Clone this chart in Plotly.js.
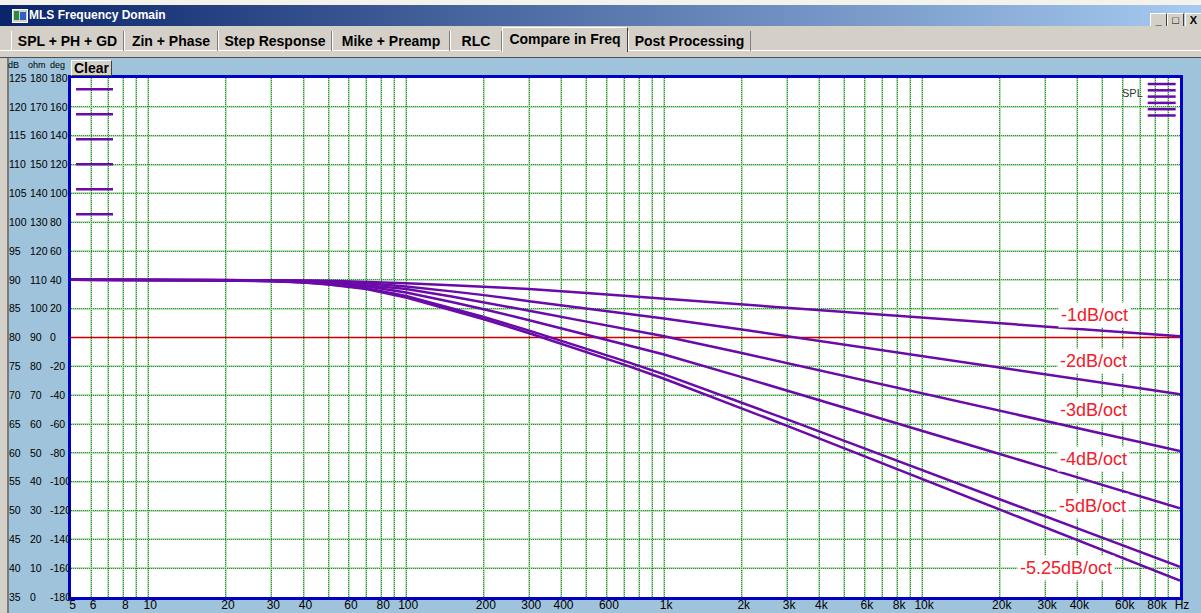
<!DOCTYPE html>
<html><head><meta charset="utf-8">
<script src="https://cdn.plot.ly/plotly-3.0.1.min.js"></script>
<style>
html,body{margin:0;padding:0}
body{width:1201px;height:613px;overflow:hidden;background:#d4d0c8;position:relative;font-family:"Liberation Sans",Arial,sans-serif}
.abs{position:absolute}
#topstrip{left:0;top:0;width:1201px;height:5px;background:#f3f2ec}
#titlebar{left:0;top:5px;width:1201px;height:21px;background:linear-gradient(to right,#0a246a,#a6caf0)}
#titletext{left:29px;top:3px;color:#fff;font-weight:bold;font-size:12px;white-space:nowrap}
#icon{left:12px;top:4px;width:14px;height:12px;background:#d4d0c8;border:1px solid #fff}
#icon div{position:absolute}
.wbtn{top:8px;width:15px;height:13px;background:#d4d0c8;border-top:1px solid #fff;border-left:1px solid #fff;border-right:1px solid #404040;border-bottom:1px solid #404040;font-size:11px;font-weight:bold;text-align:center;line-height:13px;color:#000}
#tabrow{left:0;top:26px;width:1201px;height:32px;background:#d4d0c8}
.tab{top:5px;height:20px;font-weight:bold;font-size:14px;line-height:20px;text-align:center;color:#000;white-space:nowrap;border-left:1px solid #fff;border-right:1px solid #808080}
.tab.sel{top:1px;height:24px;line-height:22px;border-top:1px solid #fff;border-left:1px solid #fff;border-right:1px solid #404040;background:#d4d0c8;z-index:2}
#tabline{left:0;top:24px;width:1201px;height:1px;background:#fff}
#tabline2{left:0;top:31px;width:1201px;height:1px;background:#505050}
#leftframe{left:0;top:58px;width:7px;height:555px;background:#d4d0c8;border-right:2px solid #7a7a7a;z-index:5}
#plot{left:0;top:58px;width:1201px;height:555px;z-index:1}
#clearbtn{left:71px;top:60px;width:39px;height:14px;background:#d4d0c8;border-top:1px solid #fff;border-left:1px solid #fff;border-right:1px solid #404040;border-bottom:1px solid #404040;font-weight:bold;font-size:14px;line-height:14px;text-align:center;z-index:6}
.unit{top:60px;font-size:9px;color:#000;z-index:6}
</style>
</head>
<body>
<div id="topstrip" class="abs"></div>
<div id="titlebar" class="abs">
  <div id="icon" class="abs"><div style="left:1px;top:1px;width:5px;height:9px;background:#2a8a4a"></div><div style="left:7px;top:2px;width:6px;height:8px;background:#3060c0"></div></div>
  <div id="titletext" class="abs">MLS Frequency Domain</div>
  <div class="abs wbtn" style="left:1150px">_</div>
  <div class="abs wbtn" style="left:1167px">&#9633;</div>
  <div class="abs wbtn" style="left:1185px">X</div>
</div>
<div id="tabrow" class="abs">
  <div id="tabline" class="abs"></div>
  <div id="tabline2" class="abs"></div>
  <div class="abs tab" style="left:11px;width:111px">SPL + PH + GD</div>
  <div class="abs tab" style="left:124px;width:92px">Zin + Phase</div>
  <div class="abs tab" style="left:218px;width:112px">Step Response</div>
  <div class="abs tab" style="left:332px;width:116px">Mike + Preamp</div>
  <div class="abs tab" style="left:450px;width:50px">RLC</div>
  <div class="abs tab sel" style="left:502px;width:124px">Compare in Freq</div>
  <div class="abs tab" style="left:628px;width:121px">Post Processing</div>
</div>
<div id="leftframe" class="abs"></div>
<div id="clearbtn" class="abs">Clear</div>
<div class="abs unit" style="left:8px">dB</div>
<div class="abs unit" style="left:28px">ohm</div>
<div class="abs unit" style="left:50px">deg</div>
<div id="plot" class="abs"></div>
<script>
// ---- data ----
const freqs = [5,10,20,30,40,50,70,100,150,200,300,500,700,1000,2000,3000,5000,7000,10000,20000,30000,50000,70000,100000];
const splMinus1   = [90,90,89.98,89.95,89.9,89.82,89.65,89.4,89.08,88.85,88.4,87.7,87.23,86.75,85.77,85.2,84.48,84.0,83.5,82.5,81.92,81.18,80.7,80.2];
const splMinus2   = [90,90,89.97,89.91,89.83,89.72,89.4,88.85,88.0,87.35,86.3,85.05,84.2,83.3,81.4,80.25,78.8,77.83,76.8,74.8,73.63,72.15,71.18,70.15];
const splMinus3   = [90,90,89.95,89.85,89.7,89.5,89.05,88.4,87.1,86.1,84.65,82.75,81.5,80.2,77.3,75.55,73.33,71.87,70.32,67.3,65.54,63.32,61.86,60.31];
const splMinus4   = [90,90,89.93,89.8,89.62,89.4,88.9,87.8,86.15,84.9,83.0,80.5,78.85,77.05,73.13,70.8,67.85,65.91,63.85,59.8,57.43,54.45,52.49,50.4];
const splMinus5   = [90,90,89.92,89.78,89.6,89.25,88.55,87.2,85.1,83.55,81.2,78.1,75.95,73.6,68.72,65.79,62.07,59.62,57.0,51.95,49.0,45.28,42.83,40.23];
const splMinus525 = [90,90,89.9,89.75,89.55,89.2,88.4,86.93,84.77,83.17,80.74,77.53,75.3,72.85,67.75,64.68,60.77,58.2,55.47,50.17,47.07,43.16,40.59,37.86];
const seriesNames = ["-1dB/oct","-2dB/oct","-3dB/oct","-4dB/oct","-5dB/oct","-5.25dB/oct"];
const seriesValues = [splMinus1,splMinus2,splMinus3,splMinus4,splMinus5,splMinus525];
const labelFreqs = [46700,46000,46000,46300,45800,36100];
const labelDb    = [83.9,75.9,67.4,59.0,50.7,40.0];
const refLevelDb = 80;
const freqRange = [5, 100000];

const xTickVals = [5,6,7,8,9,10,20,30,40,50,60,70,80,90,100,200,300,400,500,600,700,800,900,
  1000,2000,3000,4000,5000,6000,7000,8000,9000,10000,20000,30000,40000,50000,60000,70000,80000,90000,100000];
const xTickText = ["5","6","","8","","10","20","30","40","","60","","80","","100","200","300","400","","600","","","",
  "1k","2k","3k","4k","","6k","","8k","","10k","20k","30k","40k","","60k","","80k","","Hz"];
const dbTicks  = [35,40,45,50,55,60,65,70,75,80,85,90,95,100,105,110,115,120,125];
const ohmTicks = [0,10,20,30,40,50,60,70,80,90,100,110,120,130,140,150,160,170,180];
const degTicks = [-180,-160,-140,-120,-100,-80,-60,-40,-20,0,20,40,60,80,100,120,140,160,180];

// ---- styling ----
const purple = '#6a0aa8';
const W = 1180; // plot-area width in px (margin l = 0)
const xDom = [70.6/W, 1];
const tickFontY = {family:'Liberation Sans, Arial, sans-serif', size:10.5, color:'#000'};
const gridDbTicks = dbTicks.filter(v => v !== refLevelDb); // the reference level has its own red line

const traces = [];
traces.push({x: freqRange, y: [refLevelDb, refLevelDb], type:'scatter', mode:'lines',
  line:{color:'#cc0000', width:1.6}, hoverinfo:'skip', showlegend:false});
seriesValues.forEach((v,i)=>traces.push({
  x: freqs, y: v, type:'scatter', mode:'lines', name: seriesNames[i],
  line:{color:purple, width:2.5}, hoverinfo:'skip', showlegend:false, xaxis:'x', yaxis:'y'
}));
traces.push({x:[], y:[], xaxis:'x2', yaxis:'y5', showlegend:false, hoverinfo:'skip', type:'scatter'});
['y2','y3','y4'].forEach(a=>traces.push({x:[], y:[], xaxis:'x', yaxis:a, showlegend:false, hoverinfo:'skip', type:'scatter'}));

const gridLight = '#b9e0b9';
const gridDark = '#23902a';
const labelAxis = (range, vals, pos) => ({
  overlaying:'y', anchor:'free', position:pos, side:'left', range:range, tickvals:vals,
  ticktext: vals.map(v => String(v)),
  ticks:'', showgrid:false, zeroline:false, showline:false, ticklabelposition:'inside',
  ticklabelshift:2.5, ticklabeloverflow:'allow', tickfont:tickFontY, fixedrange:true
});

const shapes = [];
seriesNames.forEach((n,i)=>{
  shapes.push({type:'line', xref:'x domain', x0:0.0049, x1:0.0382, yref:'y domain',
    y0:0.9782-i*0.04817, y1:0.9782-i*0.04817, line:{color:purple, width:2.5}});
  shapes.push({type:'line', xref:'x domain', x0:0.9709, x1:0.9961, yref:'y domain',
    y0:0.9884-i*0.01212, y1:0.9884-i*0.01212, line:{color:purple, width:2.5}});
});

const annotations = seriesNames.map((n,i)=>({
  xref:'x', yref:'y', x:Math.log10(labelFreqs[i]), y:labelDb[i], text:n, showarrow:false,
  font:{family:'Liberation Sans, Arial, sans-serif', size:18, color:'#f0202a'},
  bgcolor:'#ffffff', borderpad:2
}));
annotations.push({xref:'x domain', yref:'y domain', x:0.9574, y:0.972, xanchor:'center', yanchor:'middle', text:'SPL', showarrow:false,
  font:{family:'Liberation Sans, Arial, sans-serif', size:11, color:'#333'}});

const layout = {
  width:1201, height:555,
  margin:{l:0, r:21, t:20, b:16, pad:0},
  paper_bgcolor:'#9fc3da', plot_bgcolor:'#ffffff',
  showlegend:false,
  xaxis:{type:'log', domain:xDom, range:[Math.log10(freqRange[0]), Math.log10(freqRange[1])], tickvals:xTickVals, ticktext:xTickText,
    tickangle:0, ticks:'', ticklen:0, ticklabelstandoff:-5, ticklabelshift:2, showgrid:true, gridcolor:gridLight, gridwidth:2, zeroline:false,
    showline:true, linecolor:'#0000c8', linewidth:3, mirror:true, anchor:'y',
    tickfont:{family:'Liberation Sans, Arial, sans-serif', size:12, color:'#000'}, fixedrange:true},
  xaxis2:{type:'log', domain:xDom, range:[Math.log10(freqRange[0]), Math.log10(freqRange[1])], tickvals:xTickVals, overlaying:'x', anchor:'y5',
    showticklabels:false, ticks:'', showgrid:true, gridcolor:gridDark, gridwidth:1, griddash:'1px,1px', zeroline:false, showline:false, fixedrange:true},
  yaxis:{range:[35,125], tickvals:gridDbTicks, showticklabels:false, ticks:'', showgrid:true, gridcolor:gridLight, gridwidth:2,
    zeroline:false, showline:true, linecolor:'#0000c8', linewidth:3, mirror:true, anchor:'x', fixedrange:true},
  yaxis5:{range:[35,125], tickvals:gridDbTicks, overlaying:'y', anchor:'x2', showticklabels:false, ticks:'', showgrid:true,
    gridcolor:gridDark, gridwidth:1, griddash:'1px,1px', zeroline:false, showline:false, fixedrange:true},
  yaxis2: labelAxis([35,125], dbTicks, 5/W),
  yaxis3: labelAxis([0,180], ohmTicks, 26/W),
  yaxis4: labelAxis([-180,180], degTicks, 46/W),
  shapes: shapes,
  annotations: annotations
};
Plotly.newPlot('plot', traces, layout, {staticPlot:true, displayModeBar:false});
</script>
</body></html>
